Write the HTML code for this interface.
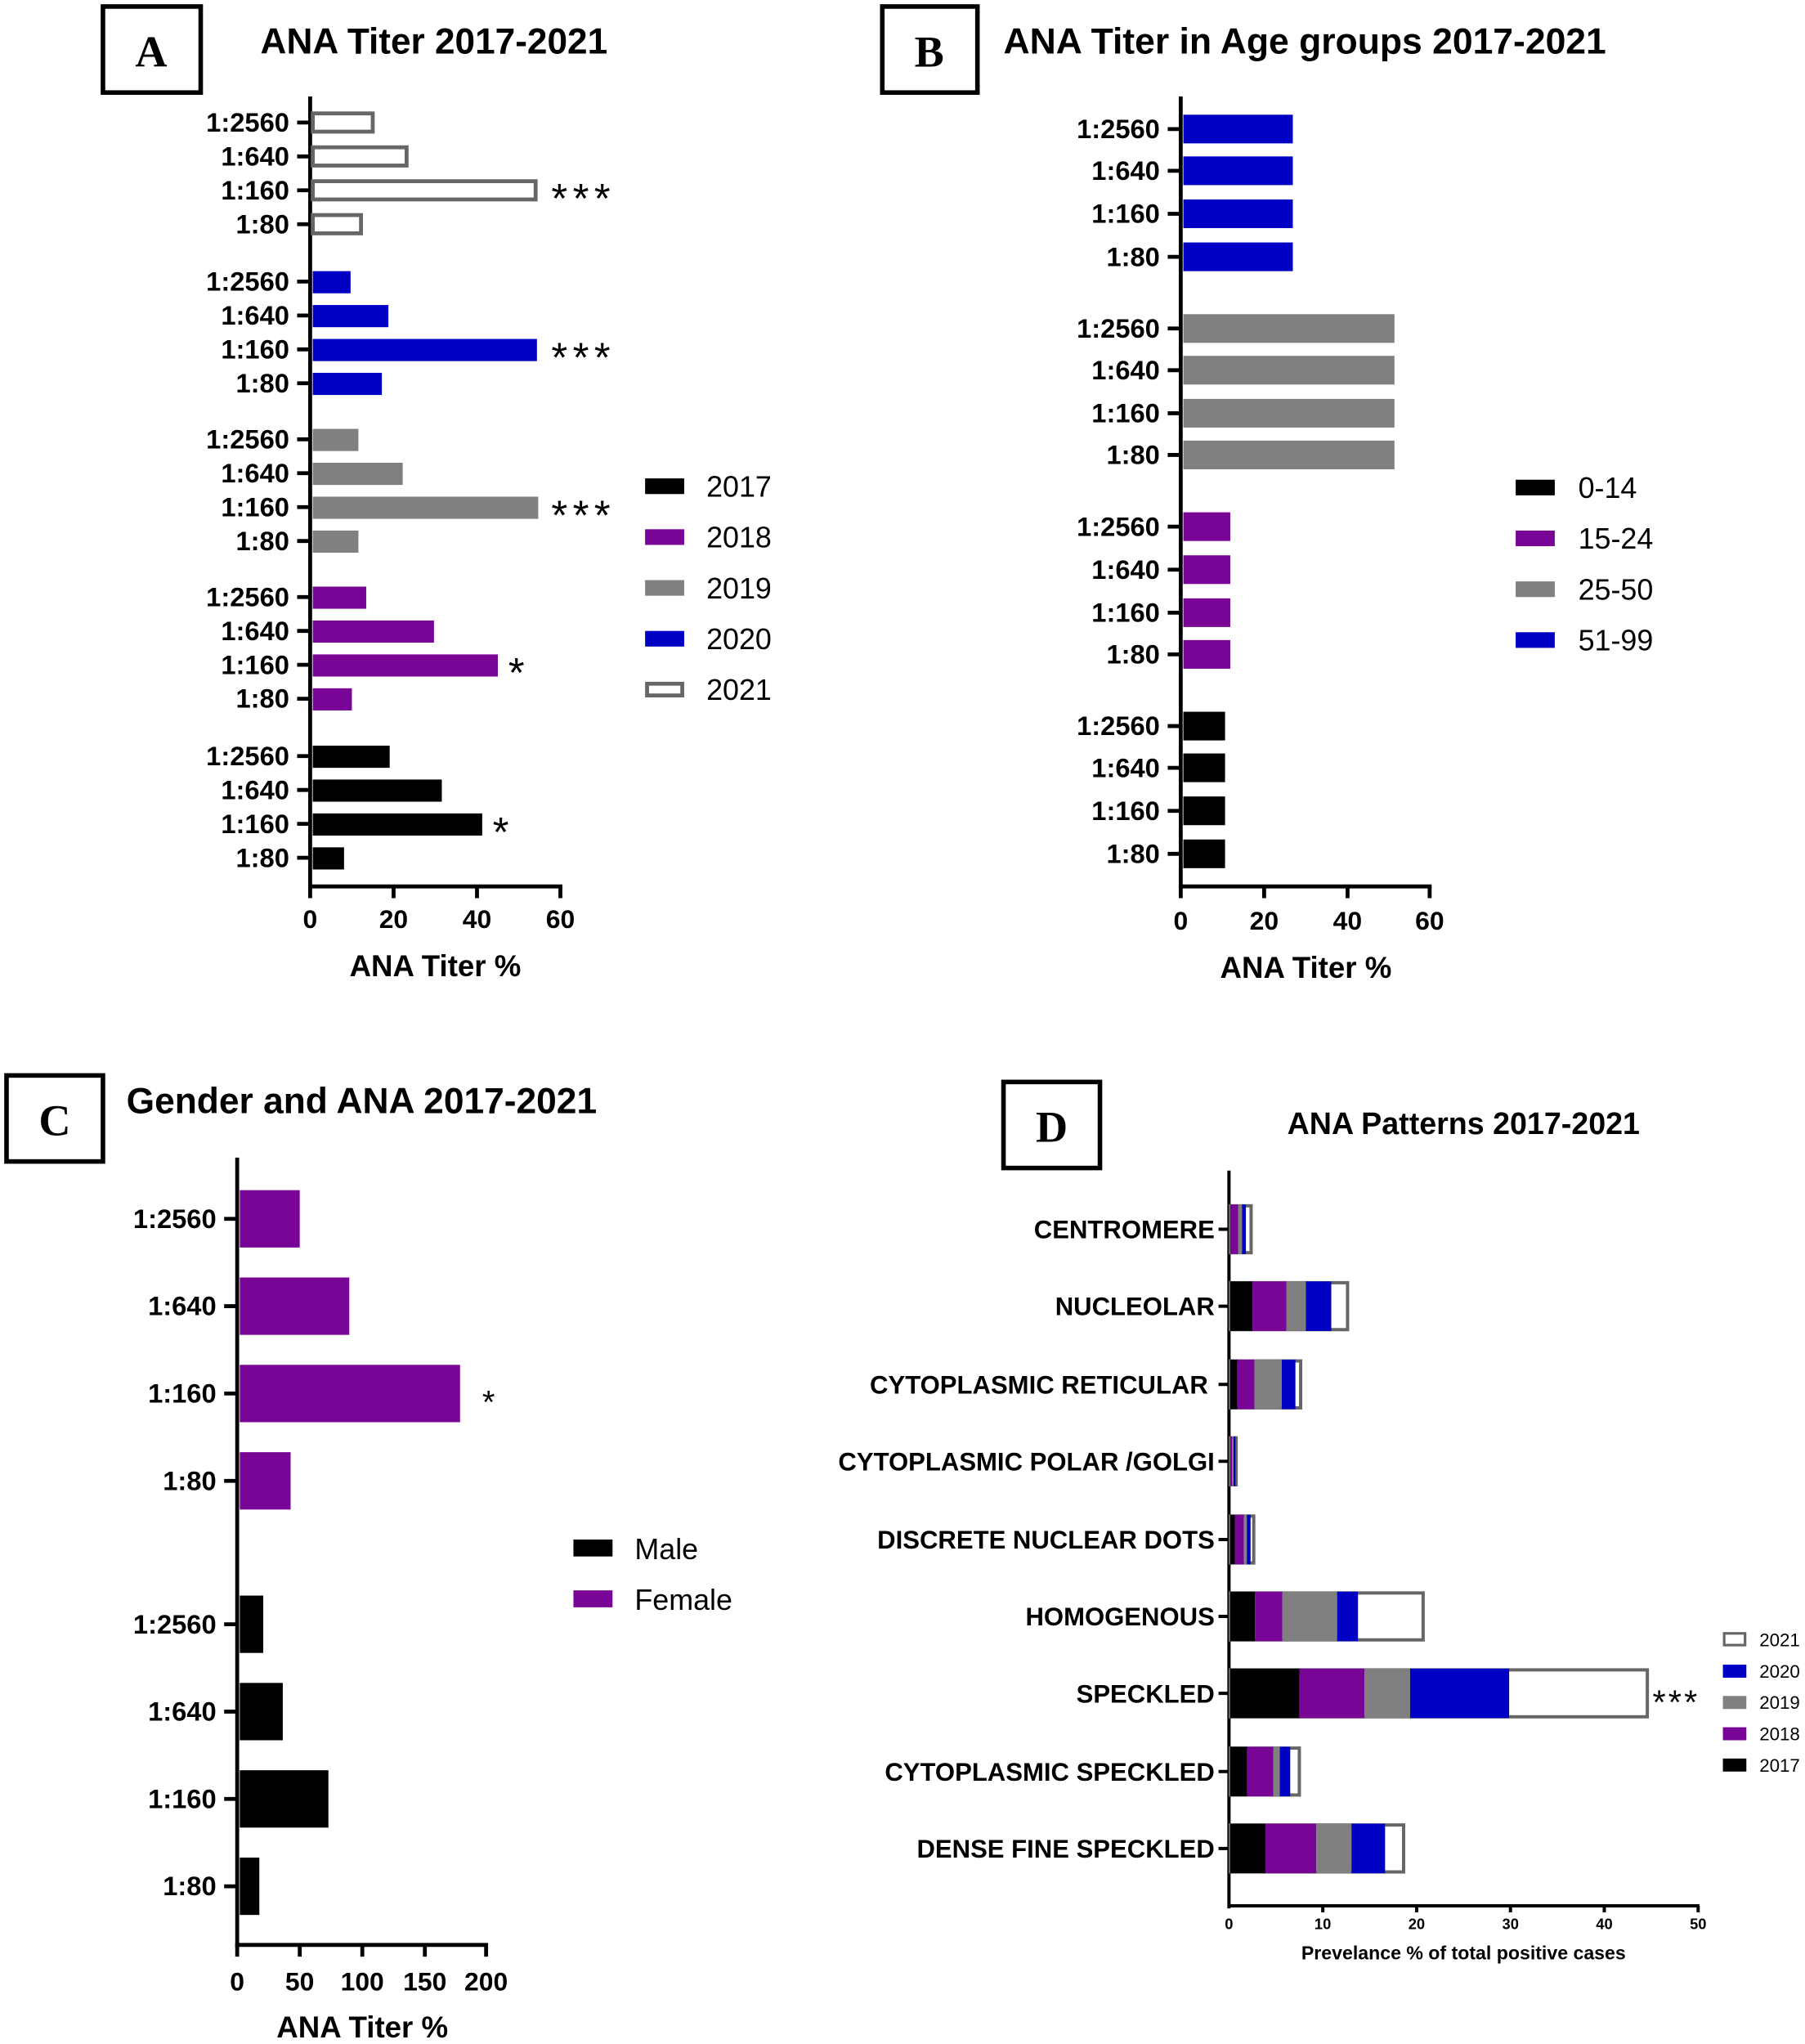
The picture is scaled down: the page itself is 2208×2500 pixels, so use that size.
<!DOCTYPE html>
<html><head><meta charset="utf-8"><style>
html,body{margin:0;padding:0;background:#fff}
svg{display:block}
.t{font-family:"Liberation Sans",Arial,sans-serif;font-weight:bold}
.n{font-family:"Liberation Sans",Arial,sans-serif}
.s{font-family:"Liberation Serif",serif;font-weight:bold}
</style></head><body>
<svg width="2208" height="2500" viewBox="0 0 1385 1568" preserveAspectRatio="none" xmlns="http://www.w3.org/2000/svg">
<rect width="1385" height="1568" fill="#fff"/>
<!-- PANEL A -->
<rect x="79" y="5" width="75" height="66" fill="none" stroke="#000" stroke-width="3.5"/>
<text class="s" x="116" y="51" font-size="34" text-anchor="middle">A</text>
<text class="t" x="333" y="41" font-size="27.7" text-anchor="middle">ANA Titer 2017-2021</text>
<g stroke="#000" stroke-width="3">
<line x1="238" y1="74" x2="238" y2="682"/>
<line x1="236.5" y1="680" x2="431.5" y2="680"/>
<line x1="238" y1="680" x2="238" y2="689"/><line x1="302" y1="680" x2="302" y2="689"/><line x1="366" y1="680" x2="366" y2="689"/><line x1="430" y1="680" x2="430" y2="689"/>
<path d="M228 94H238M228 120H238M228 146H238M228 172H238M228 216H238M228 242H238M228 268H238M228 294H238M228 337H238M228 363H238M228 389H238M228 415H238M228 458H238M228 484H238M228 510H238M228 536H238M228 580H238M228 606H238M228 632H238M228 658H238"/>
</g>
<g class="t" font-size="20.5" text-anchor="end">
<text x="222" y="101">1:2560</text><text x="222" y="127">1:640</text><text x="222" y="153">1:160</text><text x="222" y="179">1:80</text>
<text x="222" y="223">1:2560</text><text x="222" y="249">1:640</text><text x="222" y="275">1:160</text><text x="222" y="301">1:80</text>
<text x="222" y="344">1:2560</text><text x="222" y="370">1:640</text><text x="222" y="396">1:160</text><text x="222" y="422">1:80</text>
<text x="222" y="465">1:2560</text><text x="222" y="491">1:640</text><text x="222" y="517">1:160</text><text x="222" y="543">1:80</text>
<text x="222" y="587">1:2560</text><text x="222" y="613">1:640</text><text x="222" y="639">1:160</text><text x="222" y="665">1:80</text>
</g>
<g fill="#fff" stroke="#666" stroke-width="3">
<rect x="240" y="87" width="46" height="14"/><rect x="240" y="113" width="72" height="14"/><rect x="240" y="139" width="171" height="14"/><rect x="240" y="165" width="37" height="14"/>
</g>
<g fill="#0000c4">
<rect x="240" y="208" width="29" height="17"/><rect x="240" y="234" width="58" height="17"/><rect x="240" y="260" width="172" height="17"/><rect x="240" y="286" width="53" height="17"/>
</g>
<g fill="#808080">
<rect x="240" y="329" width="35" height="17"/><rect x="240" y="355" width="69" height="17"/><rect x="240" y="381" width="173" height="17"/><rect x="240" y="407" width="35" height="17"/>
</g>
<g fill="#780596">
<rect x="240" y="450" width="41" height="17"/><rect x="240" y="476" width="93" height="17"/><rect x="240" y="502" width="142" height="17"/><rect x="240" y="528" width="30" height="17"/>
</g>
<g fill="#000">
<rect x="240" y="572" width="59" height="17"/><rect x="240" y="598" width="99" height="17"/><rect x="240" y="624" width="130" height="17"/><rect x="240" y="650" width="24" height="17"/>
</g>
<g class="n" font-size="32" text-anchor="start" letter-spacing="4">
<text x="423" y="163">***</text><text x="423" y="285">***</text><text x="423" y="406">***</text><text x="390" y="527">*</text><text x="378" y="649">*</text>
</g>
<g class="t" font-size="20" text-anchor="middle">
<text x="238" y="712">0</text><text x="302" y="712">20</text><text x="366" y="712">40</text><text x="430" y="712">60</text>
</g>
<text class="t" x="334" y="749" font-size="23" text-anchor="middle">ANA Titer %</text>
<rect x="495" y="367" width="30" height="12" fill="#000"/>
<rect x="495" y="406" width="30" height="12" fill="#780596"/>
<rect x="495" y="445" width="30" height="12" fill="#808080"/>
<rect x="495" y="484" width="30" height="12" fill="#0000c4"/>
<rect x="496.5" y="524.5" width="27" height="9" fill="#fff" stroke="#666" stroke-width="3"/>
<g class="n" font-size="22.5">
<text x="542" y="381">2017</text><text x="542" y="420">2018</text><text x="542" y="459">2019</text><text x="542" y="498">2020</text><text x="542" y="537">2021</text>
</g>

<!-- PANEL B -->
<rect x="677" y="5" width="73" height="66" fill="none" stroke="#000" stroke-width="3.5"/>
<text class="s" x="713" y="51" font-size="34" text-anchor="middle">B</text>
<text class="t" x="770" y="41" font-size="27.9">ANA Titer in Age groups 2017-2021</text>
<g stroke="#000" stroke-width="3">
<line x1="906" y1="74" x2="906" y2="682"/>
<line x1="904.5" y1="680" x2="1098.5" y2="680"/>
<line x1="906" y1="680" x2="906" y2="689"/><line x1="970" y1="680" x2="970" y2="689"/><line x1="1034" y1="680" x2="1034" y2="689"/><line x1="1097" y1="680" x2="1097" y2="689"/>
<path d="M896 99H906M896 131H906M896 164H906M896 197H906M896 252H906M896 284H906M896 317H906M896 349H906M896 404H906M896 437H906M896 470H906M896 502H906M896 557H906M896 589H906M896 622H906M896 655H906"/>
</g>
<g class="t" font-size="20.5" text-anchor="end">
<text x="890" y="106">1:2560</text><text x="890" y="138">1:640</text><text x="890" y="171">1:160</text><text x="890" y="204">1:80</text>
<text x="890" y="259">1:2560</text><text x="890" y="291">1:640</text><text x="890" y="324">1:160</text><text x="890" y="356">1:80</text>
<text x="890" y="411">1:2560</text><text x="890" y="444">1:640</text><text x="890" y="477">1:160</text><text x="890" y="509">1:80</text>
<text x="890" y="564">1:2560</text><text x="890" y="596">1:640</text><text x="890" y="629">1:160</text><text x="890" y="662">1:80</text>
</g>
<g fill="#0000c4"><rect x="908" y="88" width="84" height="22"/><rect x="908" y="120" width="84" height="22"/><rect x="908" y="153" width="84" height="22"/><rect x="908" y="186" width="84" height="22"/></g>
<g fill="#808080"><rect x="908" y="241" width="162" height="22"/><rect x="908" y="273" width="162" height="22"/><rect x="908" y="306" width="162" height="22"/><rect x="908" y="338" width="162" height="22"/></g>
<g fill="#780596"><rect x="908" y="393" width="36" height="22"/><rect x="908" y="426" width="36" height="22"/><rect x="908" y="459" width="36" height="22"/><rect x="908" y="491" width="36" height="22"/></g>
<g fill="#000"><rect x="908" y="546" width="32" height="22"/><rect x="908" y="578" width="32" height="22"/><rect x="908" y="611" width="32" height="22"/><rect x="908" y="644" width="32" height="22"/></g>
<g class="t" font-size="20" text-anchor="middle">
<text x="906" y="713">0</text><text x="970" y="713">20</text><text x="1034" y="713">40</text><text x="1097" y="713">60</text>
</g>
<text class="t" x="1002" y="750" font-size="23" text-anchor="middle">ANA Titer %</text>
<rect x="1163" y="368" width="30" height="12" fill="#000"/>
<rect x="1163" y="407" width="30" height="12" fill="#780596"/>
<rect x="1163" y="446" width="30" height="12" fill="#808080"/>
<rect x="1163" y="485" width="30" height="12" fill="#0000c4"/>
<g class="n" font-size="22.5">
<text x="1211" y="382">0-14</text><text x="1211" y="421">15-24</text><text x="1211" y="460">25-50</text><text x="1211" y="499">51-99</text>
</g>

<!-- PANEL C -->
<rect x="5" y="825" width="74" height="66" fill="none" stroke="#000" stroke-width="3.5"/>
<text class="s" x="42" y="871" font-size="34" text-anchor="middle">C</text>
<text class="t" x="97" y="854" font-size="27.8">Gender and ANA 2017-2021</text>
<g stroke="#000" stroke-width="3">
<line x1="182" y1="888" x2="182" y2="1494"/>
<line x1="180.5" y1="1492" x2="374.5" y2="1492"/>
<line x1="182" y1="1492" x2="182" y2="1501"/><line x1="230" y1="1492" x2="230" y2="1501"/><line x1="278" y1="1492" x2="278" y2="1501"/><line x1="326" y1="1492" x2="326" y2="1501"/><line x1="373" y1="1492" x2="373" y2="1501"/>
<path d="M172 935H182M172 1002H182M172 1069H182M172 1136H182M172 1246H182M172 1313H182M172 1380H182M172 1447H182"/>
</g>
<g class="t" font-size="20.5" text-anchor="end">
<text x="166" y="942">1:2560</text><text x="166" y="1009">1:640</text><text x="166" y="1076">1:160</text><text x="166" y="1143">1:80</text>
<text x="166" y="1253">1:2560</text><text x="166" y="1320">1:640</text><text x="166" y="1387">1:160</text><text x="166" y="1454">1:80</text>
</g>
<g fill="#780596"><rect x="184" y="913" width="46" height="44"/><rect x="184" y="980" width="84" height="44"/><rect x="184" y="1047" width="169" height="44"/><rect x="184" y="1114" width="39" height="44"/></g>
<g fill="#000"><rect x="184" y="1224" width="18" height="44"/><rect x="184" y="1291" width="33" height="44"/><rect x="184" y="1358" width="68" height="44"/><rect x="184" y="1425" width="15" height="44"/></g>
<text class="n" x="370" y="1084" font-size="25">*</text>
<g class="t" font-size="20" text-anchor="middle">
<text x="182" y="1527">0</text><text x="230" y="1527">50</text><text x="278" y="1527">100</text><text x="326" y="1527">150</text><text x="373" y="1527">200</text>
</g>
<text class="t" x="278" y="1563" font-size="23" text-anchor="middle">ANA Titer %</text>
<rect x="440" y="1181" width="30" height="13" fill="#000"/>
<rect x="440" y="1220" width="30" height="13" fill="#780596"/>
<g class="n" font-size="22.5"><text x="487" y="1196">Male</text><text x="487" y="1235">Female</text></g>

<!-- PANEL D -->
<rect x="770" y="830" width="74" height="66" fill="none" stroke="#000" stroke-width="3.5"/>
<text class="s" x="807" y="876" font-size="34" text-anchor="middle">D</text>
<text class="t" x="1123" y="870" font-size="23.6" text-anchor="middle">ANA Patterns 2017-2021</text>
<g stroke="#000" stroke-width="2.5">
<line x1="943" y1="898" x2="943" y2="1464"/>
<line x1="942" y1="1462" x2="1304" y2="1462"/>
<line x1="1015" y1="1462" x2="1015" y2="1467"/><line x1="1087" y1="1462" x2="1087" y2="1467"/><line x1="1159" y1="1462" x2="1159" y2="1467"/><line x1="1231" y1="1462" x2="1231" y2="1467"/><line x1="1303" y1="1462" x2="1303" y2="1467"/>
<path d="M935 943H943M935 1002H943M935 1062H943M935 1121H943M935 1181H943M935 1240H943M935 1299H943M935 1359H943M935 1418H943"/>
</g>
<g class="t" font-size="19.5" text-anchor="end">
<text x="932" y="950">CENTROMERE</text><text x="932" y="1009">NUCLEOLAR</text><text x="927" y="1069">CYTOPLASMIC RETICULAR</text><text x="932" y="1128">CYTOPLASMIC POLAR /GOLGI</text><text x="932" y="1188">DISCRETE NUCLEAR DOTS</text><text x="932" y="1247">HOMOGENOUS</text><text x="932" y="1306">SPECKLED</text><text x="932" y="1366">CYTOPLASMIC SPECKLED</text><text x="932" y="1425">DENSE FINE SPECKLED</text>
</g>
<g fill="#fff" stroke="#666" stroke-width="2.5">
<rect x="944" y="925" width="16" height="36"/>
<rect x="944" y="984" width="90" height="36"/>
<rect x="944" y="1044" width="54" height="36"/>
<rect x="944" y="1103" width="4.5" height="36"/>
<rect x="944" y="1163" width="18" height="36"/>
<rect x="944" y="1222" width="148" height="36"/>
<rect x="944" y="1281" width="320" height="36"/>
<rect x="944" y="1341" width="53" height="36"/>
<rect x="944" y="1400" width="133" height="36"/>
</g>
<g>
<rect x="944" y="924" width="6" height="38" fill="#780596"/><rect x="950" y="924" width="3" height="38" fill="#808080"/><rect x="953" y="924" width="3" height="38" fill="#0000c4"/>
<rect x="944" y="983" width="17" height="38" fill="#000"/><rect x="961" y="983" width="26" height="38" fill="#780596"/><rect x="987" y="983" width="15" height="38" fill="#808080"/><rect x="1002" y="983" width="19.5" height="38" fill="#0000c4"/>
<rect x="944" y="1043" width="5.5" height="38" fill="#000"/><rect x="949.5" y="1043" width="13" height="38" fill="#780596"/><rect x="962.5" y="1043" width="21" height="38" fill="#808080"/><rect x="983.5" y="1043" width="10.5" height="38" fill="#0000c4"/>
<rect x="944" y="1102" width="1.5" height="38" fill="#780596"/><rect x="945.5" y="1102" width="1" height="38" fill="#808080"/><rect x="946.5" y="1102" width="1.5" height="38" fill="#0000c4"/>
<rect x="944" y="1162" width="3.5" height="38" fill="#000"/><rect x="947.5" y="1162" width="7" height="38" fill="#780596"/><rect x="954.5" y="1162" width="2.2" height="38" fill="#808080"/><rect x="956.7" y="1162" width="2.9" height="38" fill="#0000c4"/>
<rect x="944" y="1221" width="19" height="38" fill="#000"/><rect x="963" y="1221" width="21" height="38" fill="#780596"/><rect x="984" y="1221" width="42" height="38" fill="#808080"/><rect x="1026" y="1221" width="16" height="38" fill="#0000c4"/>
<rect x="944" y="1280" width="53" height="38" fill="#000"/><rect x="997" y="1280" width="50" height="38" fill="#780596"/><rect x="1047" y="1280" width="35" height="38" fill="#808080"/><rect x="1082" y="1280" width="76" height="38" fill="#0000c4"/>
<rect x="944" y="1340" width="13" height="38" fill="#000"/><rect x="957" y="1340" width="20" height="38" fill="#780596"/><rect x="977" y="1340" width="5" height="38" fill="#808080"/><rect x="982" y="1340" width="8" height="38" fill="#0000c4"/>
<rect x="944" y="1399" width="27" height="38" fill="#000"/><rect x="971" y="1399" width="39" height="38" fill="#780596"/><rect x="1010" y="1399" width="27" height="38" fill="#808080"/><rect x="1037" y="1399" width="25.8" height="38" fill="#0000c4"/>
</g>
<text class="n" x="1268" y="1315" font-size="26" letter-spacing="2">***</text>
<g class="t" font-size="11.5" text-anchor="middle">
<text x="943" y="1480">0</text><text x="1015" y="1480">10</text><text x="1087" y="1480">20</text><text x="1159" y="1480">30</text><text x="1231" y="1480">40</text><text x="1303" y="1480">50</text>
</g>
<text class="t" x="1123" y="1503" font-size="14.5" text-anchor="middle">Prevelance % of total positive cases</text>
<rect x="1323" y="1253" width="16" height="9" fill="#fff" stroke="#666" stroke-width="2"/>
<rect x="1322" y="1277" width="18" height="10" fill="#0000c4"/>
<rect x="1322" y="1301" width="18" height="10" fill="#808080"/>
<rect x="1322" y="1325" width="18" height="10" fill="#780596"/>
<rect x="1322" y="1349" width="18" height="10" fill="#000"/>
<g class="n" font-size="14">
<text x="1350" y="1263">2021</text><text x="1350" y="1287">2020</text><text x="1350" y="1311">2019</text><text x="1350" y="1335">2018</text><text x="1350" y="1359">2017</text>
</g>
</svg>
</body></html>
